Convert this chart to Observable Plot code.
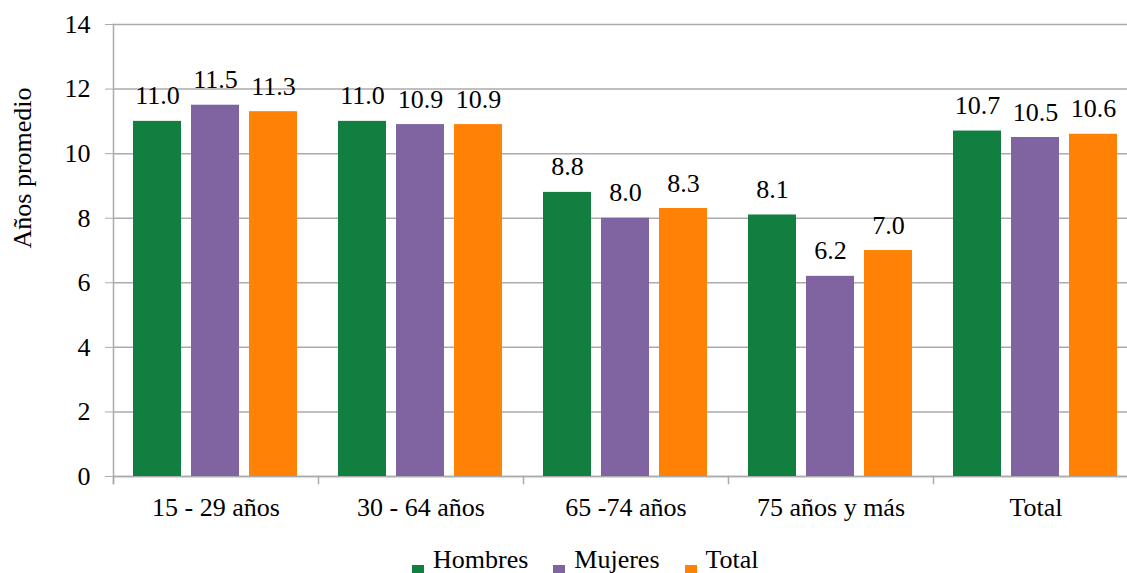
<!DOCTYPE html>
<html>
<head>
<meta charset="utf-8">
<script src="https://cdn.jsdelivr.net/npm/d3@7"></script>
<script src="https://cdn.jsdelivr.net/npm/@observablehq/plot@0.6"></script>
<style>
  html, body { margin: 0; padding: 0; background: #fff; }
  #wrap { position: relative; width: 1127px; height: 573px; overflow: hidden; font-family: 'Liberation Serif', 'Times New Roman', Tinos, 'DejaVu Serif', serif; }
  #chart { position: absolute; left: 0; top: 0; width: 1127px; overflow: hidden; }
  #chart svg text { font-family: 'Liberation Serif', 'Times New Roman', Tinos, 'DejaVu Serif', serif; }
  #legend { position: absolute; left: 412px; top: 547px; display: flex; gap: 25px; font-size: 26px; line-height: 26px; color: #000; white-space: nowrap; }
  #legend .item { display: flex; align-items: flex-start; }
  #legend .sw { width: 12px; height: 12px; margin-top: 18px; margin-right: 9px; }
</style>
</head>
<body>
<div id="wrap">
  <div id="chart"></div>
  <div id="legend"></div>
</div>
<script>
const groups = ["15 - 29 años", "30 - 64 años", "65 -74 años", "75 años y más", "Total"];
const series = ["Hombres", "Mujeres", "Total"];
const hombres = [11.0, 11.0, 8.8, 8.1, 10.7];
const mujeres = [11.5, 10.9, 8.0, 6.2, 10.5];
const total = [11.3, 10.9, 8.3, 7.0, 10.6];
const colors = ["#107F40", "#8064A2", "#FF8207"];
const yTicks = [0, 2, 4, 6, 8, 10, 12, 14];
const yLabel = "Años promedio";

const values = [hombres, mujeres, total];
const data = [];
groups.forEach((g, i) => series.forEach((s, j) => data.push({group: g, series: s, value: values[j][i]})));

const gray = "#ABABAB";
const serifFont = "'Liberation Serif', 'Times New Roman', Tinos, 'DejaVu Serif', serif";

const chart = Plot.plot({
  width: 1127,
  height: 530,
  marginLeft: 112,
  marginRight: -11,
  marginTop: 24,
  marginBottom: 54,
  style: {fontFamily: serifFont, fontSize: "26px", color: "#000", background: "transparent", overflow: "hidden"},
  fx: {domain: groups, padding: 0, label: null},
  x: {domain: series, paddingInner: 0.164, paddingOuter: 0.333, axis: null, label: null},
  y: {domain: [0, 14], label: null},
  color: {domain: series, range: colors},
  marks: [
    Plot.gridY(yTicks, {stroke: gray, strokeOpacity: 1, strokeWidth: 1.5}),
    Plot.ruleY([0], {stroke: gray, strokeWidth: 1.5}),
    Plot.frame({anchor: "left", stroke: gray, strokeWidth: 1.5, insetBottom: -7, facetAnchor: "left"}),
    Plot.frame({anchor: "left", stroke: gray, strokeWidth: 1.5, insetTop: 452, insetBottom: -7}),
    Plot.axisY(yTicks, {tickSize: 8, tickPadding: 15, stroke: gray, fill: "#000", label: null, tickFormat: d => String(d)}),
    Plot.axisFx({anchor: "bottom", tickSize: 0, tickPadding: 21, label: null, fill: "#000"}),
    Plot.barY(data, {fx: "group", x: "series", y: "value", fill: "series"}),
    Plot.text(data, {fx: "group", x: "series", y: "value", text: d => d.value.toFixed(1), lineAnchor: "bottom", dy: -17, fill: "#000"}),
    Plot.text([{g: groups[0], t: yLabel}], {fx: "g", text: "t", frameAnchor: "left", rotate: -90, dx: -91, dy: -2, fill: "#000"})
  ]
});
document.getElementById("chart").appendChild(chart);

const legend = document.getElementById("legend");
series.forEach((s, i) => {
  const item = document.createElement("div");
  item.className = "item";
  const sw = document.createElement("span");
  sw.className = "sw";
  sw.style.background = colors[i];
  const tx = document.createElement("span");
  tx.textContent = s;
  item.appendChild(sw);
  item.appendChild(tx);
  legend.appendChild(item);
});
</script>
</body>
</html>
